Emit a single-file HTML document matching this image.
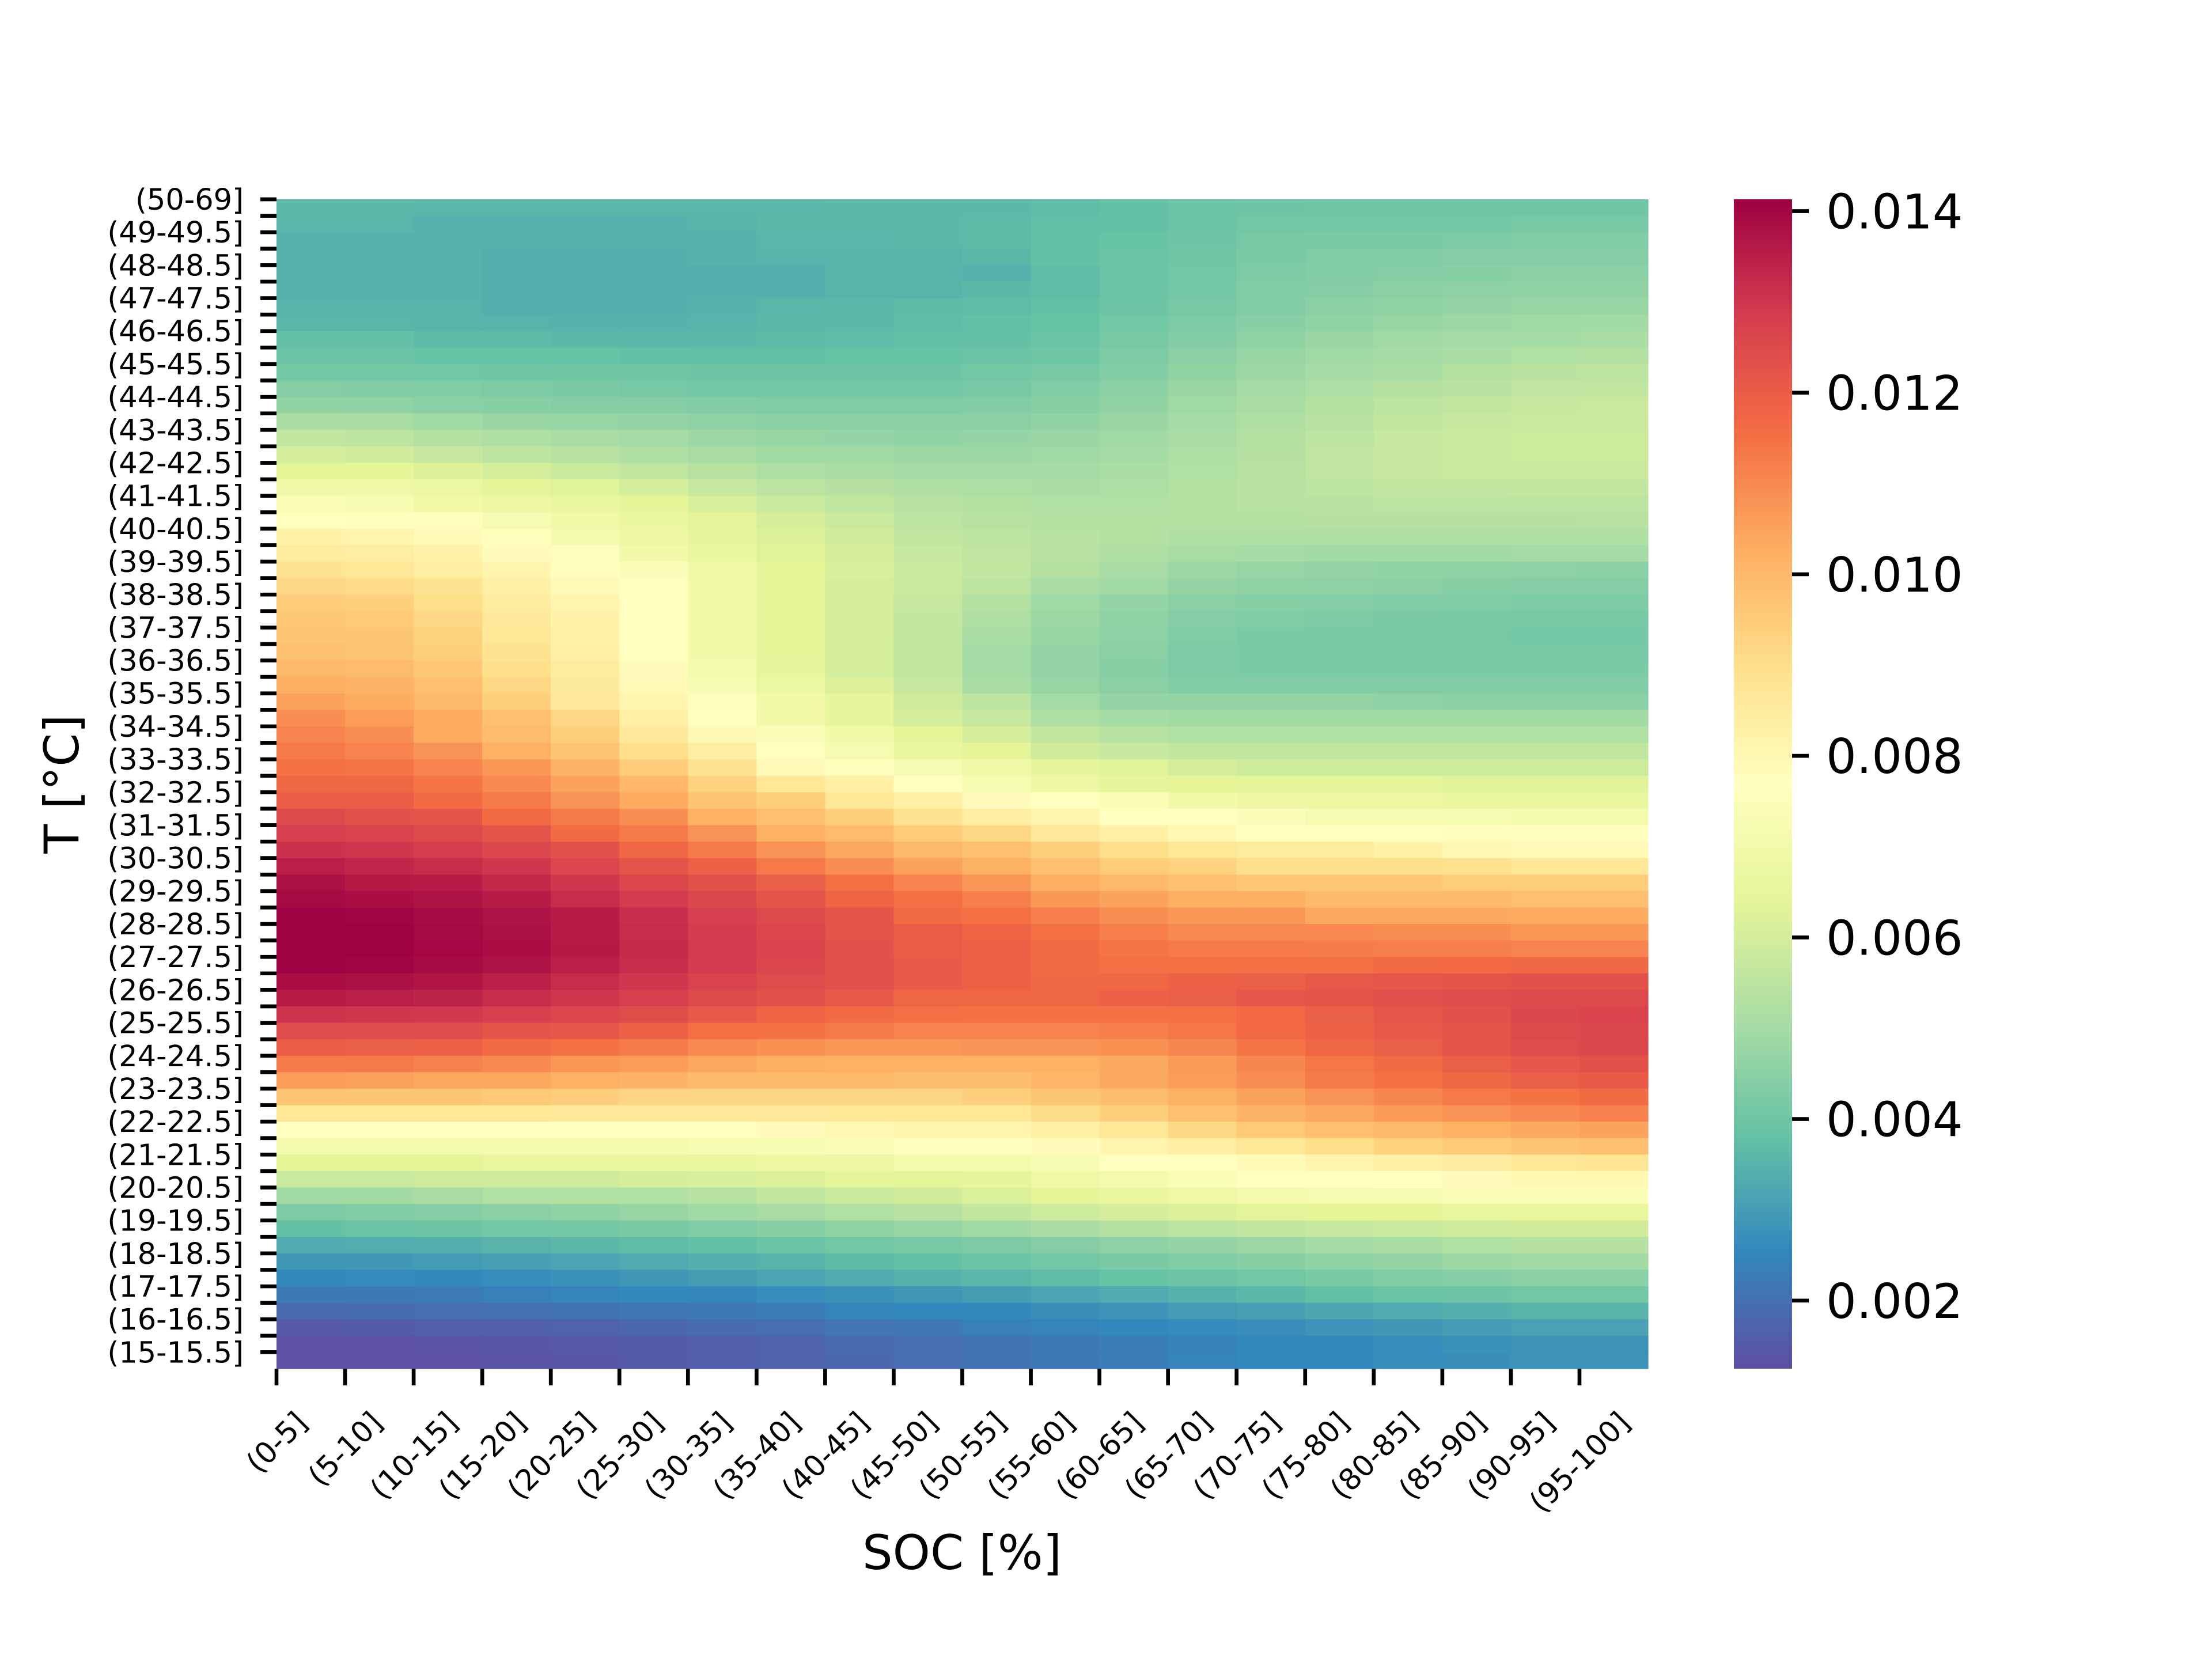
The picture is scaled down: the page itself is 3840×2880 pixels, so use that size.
<!DOCTYPE html>
<html><head><meta charset="utf-8"><style>
html,body{margin:0;padding:0;background:#fff;}
svg{display:block;font-family:"DejaVu Sans","Liberation Sans",sans-serif;}
</style></head><body>
<svg id="chart" xmlns="http://www.w3.org/2000/svg" width="3840" height="2880" viewBox="0 0 3840 2880">
<rect x="0" y="0" width="3840" height="2880" fill="#fff"/>
<g id="cells"></g>
<g id="yaxis"></g>
<g id="xaxis"></g>
<g id="cbar"></g>
<text x="1670" y="2724" font-size="83" text-anchor="middle">SOC [%]</text>
<text transform="translate(136,1361) rotate(-90)" font-size="83" text-anchor="middle">T [°C]</text>
</svg>
<script>
const socLabels = ["(0-5]","(5-10]","(10-15]","(15-20]","(20-25]","(25-30]","(30-35]","(35-40]","(40-45]","(45-50]","(50-55]","(55-60]","(60-65]","(65-70]","(70-75]","(75-80]","(80-85]","(85-90]","(90-95]","(95-100]"];
const tempLabels = ["(50-69]","(49-49.5]","(48-48.5]","(47-47.5]","(46-46.5]","(45-45.5]","(44-44.5]","(43-43.5]","(42-42.5]","(41-41.5]","(40-40.5]","(39-39.5]","(38-38.5]","(37-37.5]","(36-36.5]","(35-35.5]","(34-34.5]","(33-33.5]","(32-32.5]","(31-31.5]","(30-30.5]","(29-29.5]","(28-28.5]","(27-27.5]","(26-26.5]","(25-25.5]","(24-24.5]","(23-23.5]","(22-22.5]","(21-21.5]","(20-20.5]","(19-19.5]","(18-18.5]","(17-17.5]","(16-16.5]","(15-15.5]"];
const cbarTicks = [0.002,0.004,0.006,0.008,0.010,0.012,0.014];
const cbarTickLabels = ["0.002","0.004","0.006","0.008","0.010","0.012","0.014"];
const vmin = 0.00125, vmax = 0.01413;
const valueScale = 0.001;
// rows: top (50-69] down to (15-15.5], values in units of 1e-3
const heat = [
[3.6,3.6,3.55,3.55,3.55,3.55,3.55,3.55,3.6,3.6,3.6,3.7,3.8,3.9,3.95,4.0,4.0,4.0,4.0,4.0],
[3.55,3.55,3.45,3.45,3.45,3.45,3.5,3.6,3.6,3.6,3.65,3.75,3.8,3.9,4.05,4.1,4.1,4.1,4.15,4.15],
[3.45,3.45,3.45,3.45,3.45,3.45,3.45,3.55,3.55,3.6,3.65,3.8,3.85,3.95,4.15,4.2,4.2,4.25,4.3,4.3],
[3.45,3.45,3.45,3.4,3.4,3.4,3.45,3.5,3.5,3.5,3.6,3.8,3.9,4.0,4.2,4.3,4.35,4.4,4.4,4.4],
[3.45,3.45,3.45,3.4,3.4,3.4,3.4,3.4,3.5,3.5,3.45,3.7,3.9,4.05,4.25,4.35,4.4,4.45,4.5,4.5],
[3.45,3.45,3.45,3.4,3.4,3.4,3.4,3.4,3.5,3.5,3.6,3.7,3.9,4.1,4.3,4.4,4.5,4.55,4.6,4.6],
[3.5,3.5,3.5,3.4,3.4,3.4,3.45,3.55,3.6,3.65,3.7,3.8,3.95,4.15,4.35,4.5,4.6,4.7,4.75,4.75],
[3.55,3.55,3.5,3.5,3.45,3.45,3.5,3.6,3.6,3.7,3.75,3.85,4.05,4.25,4.45,4.6,4.75,4.85,4.9,4.95],
[3.8,3.8,3.65,3.65,3.6,3.6,3.6,3.65,3.7,3.75,3.8,3.9,4.15,4.35,4.6,4.8,4.9,5.0,5.0,5.1],
[3.9,3.9,3.85,3.85,3.85,3.8,3.75,3.8,3.85,3.85,3.9,4.0,4.25,4.5,4.75,4.9,5.0,5.1,5.25,5.3],
[4.05,4.05,4.05,4.0,4.0,4.0,3.95,3.95,3.95,3.95,4.05,4.15,4.35,4.65,4.85,5.0,5.1,5.3,5.45,5.5],
[4.4,4.35,4.3,4.25,4.2,4.15,4.1,4.1,4.1,4.1,4.15,4.3,4.5,4.8,5.0,5.15,5.3,5.45,5.55,5.6],
[4.65,4.6,4.5,4.45,4.4,4.4,4.35,4.3,4.3,4.3,4.35,4.45,4.65,4.9,5.1,5.3,5.5,5.6,5.7,5.75],
[5.1,5.05,4.95,4.8,4.75,4.7,4.6,4.5,4.5,4.5,4.5,4.65,4.8,5.0,5.2,5.4,5.6,5.7,5.8,5.8],
[5.6,5.5,5.3,5.2,5.1,5.0,4.85,4.75,4.7,4.65,4.7,4.8,4.9,5.1,5.3,5.5,5.7,5.8,5.85,5.85],
[6.0,5.9,5.7,5.5,5.4,5.2,5.05,4.95,4.9,4.85,4.85,4.9,5.0,5.2,5.35,5.55,5.7,5.8,5.85,5.85],
[6.4,6.4,6.25,6.0,5.8,5.6,5.4,5.2,5.1,5.0,5.0,5.0,5.1,5.25,5.4,5.55,5.7,5.75,5.8,5.8],
[6.9,6.85,6.7,6.45,6.3,6.0,5.7,5.5,5.35,5.2,5.15,5.1,5.15,5.3,5.4,5.5,5.6,5.6,5.65,5.65],
[7.4,7.3,7.0,6.8,6.6,6.4,6.1,5.8,5.6,5.4,5.3,5.25,5.25,5.3,5.4,5.45,5.5,5.5,5.5,5.5],
[7.7,7.75,7.75,7.2,6.9,6.6,6.35,6.0,5.8,5.5,5.4,5.3,5.3,5.3,5.3,5.35,5.35,5.35,5.35,5.4],
[8.2,8.1,7.85,7.75,7.1,6.8,6.5,6.2,5.95,5.6,5.5,5.4,5.3,5.2,5.2,5.2,5.2,5.2,5.2,5.2],
[8.5,8.4,8.2,7.8,7.6,7.0,6.6,6.3,6.05,5.7,5.55,5.4,5.2,5.05,5.0,4.95,4.95,4.95,5.0,5.0],
[8.8,8.7,8.4,8.1,7.75,7.5,6.9,6.4,6.1,5.8,5.6,5.3,5.05,4.85,4.75,4.7,4.65,4.6,4.55,4.5],
[9.2,9.1,8.8,8.3,7.9,7.7,7.0,6.4,6.05,5.75,5.5,5.1,4.9,4.7,4.6,4.55,4.5,4.45,4.4,4.4],
[9.5,9.4,9.0,8.5,8.1,7.7,7.0,6.4,6.0,5.7,5.3,4.9,4.7,4.5,4.45,4.4,4.35,4.3,4.25,4.25],
[9.6,9.55,9.2,8.6,8.2,7.7,7.0,6.4,6.0,5.65,5.2,4.85,4.6,4.4,4.3,4.25,4.2,4.2,4.15,4.15],
[9.7,9.65,9.3,8.7,8.25,7.7,7.0,6.4,6.0,5.6,5.1,4.75,4.55,4.3,4.2,4.2,4.15,4.15,4.1,4.1],
[9.8,9.7,9.4,8.8,8.3,7.7,7.0,6.4,6.0,5.6,5.0,4.7,4.5,4.25,4.2,4.2,4.2,4.2,4.15,4.15],
[10.0,9.9,9.6,9.0,8.5,7.8,7.1,6.5,6.0,5.6,5.0,4.7,4.45,4.25,4.2,4.2,4.2,4.2,4.2,4.2],
[10.25,10.1,9.8,9.2,8.55,7.9,7.3,6.7,6.2,5.7,5.1,4.75,4.5,4.35,4.35,4.35,4.35,4.35,4.35,4.35],
[10.5,10.3,10.0,9.4,8.6,8.1,7.6,7.0,6.5,5.9,5.5,5.0,4.7,4.7,4.7,4.7,4.55,4.5,4.5,4.5],
[10.9,10.6,10.3,9.8,9.2,8.3,7.7,7.0,6.5,6.0,5.7,5.2,5.0,4.95,4.95,4.95,4.95,4.95,4.95,4.95],
[11.1,10.9,10.3,9.9,9.4,8.6,8.0,7.5,7.0,6.4,6.0,5.6,5.4,5.25,5.25,5.25,5.25,5.25,5.25,5.25],
[11.3,11.1,10.8,10.2,9.7,9.0,8.4,7.7,7.2,6.6,6.4,5.9,5.7,5.6,5.6,5.6,5.6,5.6,5.6,5.6],
[11.45,11.4,11.1,10.7,10.1,9.5,8.8,7.9,7.6,7.2,6.9,6.5,6.3,6.0,5.85,5.85,5.85,5.85,5.85,5.85],
[11.7,11.7,11.4,11.0,10.5,10.0,9.3,8.7,8.3,7.7,7.2,6.8,6.4,6.4,6.35,6.35,6.35,6.3,6.3,6.3],
[12.0,12.0,11.6,11.3,10.8,10.3,9.7,9.4,8.7,8.3,7.8,7.7,7.4,7.0,6.8,6.8,6.8,6.6,6.6,6.6],
[12.5,12.3,12.2,11.6,11.3,10.9,10.2,9.8,9.4,8.8,8.4,8.1,7.7,7.7,7.5,7.2,7.2,7.2,7.1,7.1],
[12.8,12.7,12.5,12.2,11.6,11.3,10.8,10.2,9.9,9.5,9.2,8.6,8.3,8.0,7.7,7.7,7.7,7.75,7.75,7.75],
[13.1,13.0,12.85,12.6,12.3,11.7,11.3,10.8,10.4,10.0,9.8,9.4,9.0,8.7,8.5,8.5,8.2,8.0,7.9,7.9],
[13.5,13.35,13.2,13.0,12.6,12.2,11.9,11.3,10.9,10.5,10.2,9.8,9.5,9.3,9.0,9.0,9.0,8.9,8.7,8.7],
[13.8,13.6,13.55,13.3,13.0,12.6,12.3,11.95,11.5,11.1,10.7,10.25,10.0,9.8,9.6,9.6,9.6,9.45,9.45,9.45],
[13.95,13.85,13.75,13.55,13.2,12.9,12.55,12.2,11.8,11.5,11.2,10.7,10.5,10.25,10.25,9.95,9.95,9.95,9.8,9.8],
[14.1,14.05,13.9,13.75,13.55,13.15,12.8,12.5,12.2,11.6,11.5,11.2,10.9,10.7,10.7,10.35,10.35,10.35,10.3,10.3],
[14.1,14.1,13.95,13.8,13.55,13.2,12.9,12.6,12.25,12.0,11.8,11.5,11.2,11.0,11.0,11.0,10.9,10.9,10.7,10.7],
[14.1,14.1,14.0,13.85,13.6,13.25,12.9,12.65,12.3,12.0,11.85,11.6,11.4,11.3,11.3,11.25,11.2,11.2,11.1,11.1],
[14.1,14.05,13.9,13.75,13.5,13.2,12.9,12.6,12.3,12.05,11.9,11.6,11.5,11.5,11.5,11.5,11.6,11.65,11.7,11.7],
[13.85,13.8,13.7,13.5,13.2,13.0,12.7,12.45,12.3,12.05,11.9,11.7,11.7,11.85,11.95,12.1,12.15,12.25,12.3,12.3],
[13.55,13.5,13.4,13.2,13.0,12.8,12.5,12.3,12.1,11.75,11.75,11.75,11.85,11.95,12.15,12.25,12.35,12.45,12.5,12.5],
[13.05,13.0,12.95,12.8,12.6,12.4,12.1,11.8,11.6,11.5,11.45,11.45,11.45,11.45,11.65,11.95,12.15,12.3,12.55,12.65],
[12.4,12.4,12.4,12.25,12.15,11.9,11.5,11.45,11.3,11.1,11.1,11.1,11.2,11.35,11.65,11.85,12.1,12.25,12.5,12.55],
[12.0,11.95,11.9,11.6,11.45,11.3,11.0,10.85,10.7,10.7,10.8,10.8,10.85,11.05,11.4,11.7,11.95,12.25,12.45,12.55],
[11.3,11.3,11.15,11.0,10.75,10.6,10.4,10.25,10.2,10.2,10.2,10.2,10.35,10.65,11.05,11.35,11.6,11.95,12.15,12.3],
[10.6,10.55,10.4,10.4,10.2,10.1,9.95,9.95,9.95,9.85,9.85,10.05,10.35,10.6,10.9,11.25,11.45,11.7,11.95,12.05],
[9.7,9.65,9.65,9.55,9.45,9.25,9.25,9.25,9.25,9.25,9.4,9.65,9.85,10.2,10.5,10.8,11.05,11.3,11.45,11.6],
[8.7,8.7,8.7,8.7,8.6,8.6,8.6,8.6,8.7,8.7,8.7,9.05,9.4,9.8,10.1,10.35,10.65,10.8,11.0,11.15],
[7.7,7.7,7.7,7.7,7.7,7.7,7.7,7.8,8.0,8.1,8.1,8.3,8.7,9.2,9.55,9.8,10.0,10.2,10.35,10.5],
[7.1,7.1,7.1,7.1,7.1,7.1,7.3,7.3,7.45,7.65,7.65,7.8,8.1,8.35,8.7,9.0,9.35,9.55,9.7,9.8],
[6.45,6.45,6.45,6.6,6.6,6.6,6.6,6.8,6.8,7.05,7.05,7.3,7.7,7.7,7.85,8.1,8.3,8.45,8.65,8.75],
[5.75,5.75,5.85,5.85,5.85,6.0,6.1,6.2,6.35,6.35,6.5,6.85,7.1,7.4,7.7,7.7,7.7,7.8,8.0,8.0],
[4.95,4.95,5.05,5.25,5.25,5.25,5.4,5.6,5.8,5.95,6.15,6.4,6.6,6.85,7.05,7.2,7.3,7.4,7.5,7.5],
[4.25,4.35,4.4,4.5,4.6,4.75,4.9,5.05,5.25,5.4,5.65,5.85,6.05,6.2,6.35,6.4,6.45,6.55,6.55,6.55],
[3.8,3.9,3.95,4.05,4.1,4.2,4.3,4.45,4.6,4.75,4.95,5.1,5.3,5.5,5.6,5.7,5.8,5.9,5.95,5.95],
[3.3,3.35,3.4,3.5,3.6,3.7,3.8,3.9,4.05,4.15,4.25,4.4,4.55,4.7,4.85,5.0,5.1,5.25,5.35,5.35],
[2.85,2.9,2.95,3.05,3.15,3.3,3.4,3.5,3.65,3.8,3.9,4.05,4.2,4.3,4.45,4.6,4.7,4.85,4.95,4.95],
[2.55,2.6,2.55,2.65,2.75,2.85,3.0,3.15,3.3,3.45,3.55,3.7,3.85,3.95,4.05,4.2,4.3,4.4,4.5,4.5],
[2.2,2.2,2.25,2.35,2.45,2.55,2.5,2.65,2.75,2.85,3.0,3.15,3.3,3.45,3.6,3.75,3.9,3.95,4.05,4.05],
[1.85,1.9,1.95,2.0,2.05,2.15,2.2,2.3,2.45,2.55,2.55,2.7,2.8,2.95,3.05,3.2,3.3,3.4,3.5,3.5],
[1.5,1.55,1.6,1.65,1.7,1.8,1.9,2.0,2.1,2.2,2.35,2.45,2.55,2.6,2.7,2.8,2.9,3.0,3.1,3.1],
[1.3,1.3,1.35,1.4,1.45,1.55,1.6,1.7,1.85,1.95,2.05,2.2,2.3,2.4,2.55,2.55,2.65,2.75,2.8,2.8],
[1.3,1.3,1.3,1.35,1.4,1.5,1.6,1.7,1.8,1.95,2.05,2.2,2.3,2.45,2.55,2.55,2.65,2.7,2.8,2.8]
];

const NS = "http://www.w3.org/2000/svg";
const PX0 = 480, PX1 = 2861, PY0 = 346, PY1 = 2376;
const CBX0 = 3010, CBX1 = 3111;
const nCols = socLabels.length, nRows = heat.length;
const cw = (PX1 - PX0) / nCols, rh = (PY1 - PY0) / nRows;
function xCol(i){ return PX0 + i * cw; }
function yRow(r){ return PY0 + r * rh; }
function yCbar(v){ return PY1 - (v - vmin) / (vmax - vmin) * (PY1 - PY0); }
const spectral = ["#5e4fa2","#3288bd","#66c2a5","#abdda4","#e6f598","#ffffbf","#fee08b","#fdae61","#f46d43","#d53e4f","#9e0142"];
function hex2rgb(h){ return [parseInt(h.substr(1,2),16),parseInt(h.substr(3,2),16),parseInt(h.substr(5,2),16)]; }
const stops = spectral.map(hex2rgb);
function cmap(v){
  let t = (v - vmin) / (vmax - vmin);
  t = Math.max(0, Math.min(1, t));
  const p = t * (stops.length - 1);
  const i = Math.min(stops.length - 2, Math.floor(p));
  const f = p - i;
  const c = stops[i].map((a, k) => Math.round(a + (stops[i+1][k] - a) * f));
  return "rgb(" + c.join(",") + ")";
}
function mk(tag, attrs, parent){
  const el = document.createElementNS(NS, tag);
  for (const k in attrs) el.setAttribute(k, attrs[k]);
  parent.appendChild(el);
  return el;
}
const gCells = document.getElementById("cells");
heat.forEach((row, r) => {
  row.forEach((v, c) => {
    const el = mk("rect", {x: xCol(c).toFixed(2), y: yRow(r).toFixed(2), width: (cw + 0.6).toFixed(2), height: (rh + 0.6).toFixed(2), fill: cmap(v * valueScale)}, gCells);
    
    
  });
});
// y axis
const gY = document.getElementById("yaxis");
for (let r = 0; r < nRows; r++) {
  const y = yRow(r);
  const t = mk("line", {x1: 452, x2: 480, y1: y, y2: y, stroke: "#000", "stroke-width": 6.7}, gY);
  
  
}
tempLabels.forEach((lab, k) => {
  const y = yRow(k * 2);
  const t = mk("text", {x: 423, y: (y + 18).toFixed(1), "font-size": 51, "text-anchor": "end"}, gY);
  t.textContent = lab;
  
  
});
// x axis
const gX = document.getElementById("xaxis");
socLabels.forEach((lab, i) => {
  const x = xCol(i);
  const tk = mk("line", {x1: x, x2: x, y1: PY1, y2: PY1 + 29, stroke: "#000", "stroke-width": 6.7}, gX);
  
  
  const t = mk("text", {"font-size": 51, "text-anchor": "middle"}, gX);
  t.textContent = lab;
  
  
  const L = t.getComputedTextLength ? t.getComputedTextLength() : lab.length * 30;
  const half = (L + 51) / (2 * Math.SQRT2);
  const cx = x, cy = 2442 + half;
  t.setAttribute("transform", "translate(" + cx.toFixed(1) + "," + cy.toFixed(1) + ") rotate(-45)");
  t.setAttribute("y", "18");
});
// colorbar
const gC = document.getElementById("cbar");
const defs = mk("defs", {}, gC);
const grad = mk("linearGradient", {id: "cbgrad", x1: 0, y1: 1, x2: 0, y2: 0}, defs);
spectral.forEach((c, i) => { mk("stop", {offset: (i / (spectral.length - 1)).toFixed(3), "stop-color": c}, grad); });
const bar = mk("rect", {x: CBX0, y: PY0, width: CBX1 - CBX0, height: PY1 - PY0, fill: "url(#cbgrad)"}, gC);


cbarTicks.forEach((v, i) => {
  const y = yCbar(v);
  const tk = mk("line", {x1: CBX1, x2: CBX1 + 29, y1: y, y2: y, stroke: "#000", "stroke-width": 6.7}, gC);
  
  
  const t = mk("text", {x: 3170, y: (y + 30).toFixed(1), "font-size": 83}, gC);
  t.textContent = cbarTickLabels[i];
  
  
});
</script>
</body></html>
